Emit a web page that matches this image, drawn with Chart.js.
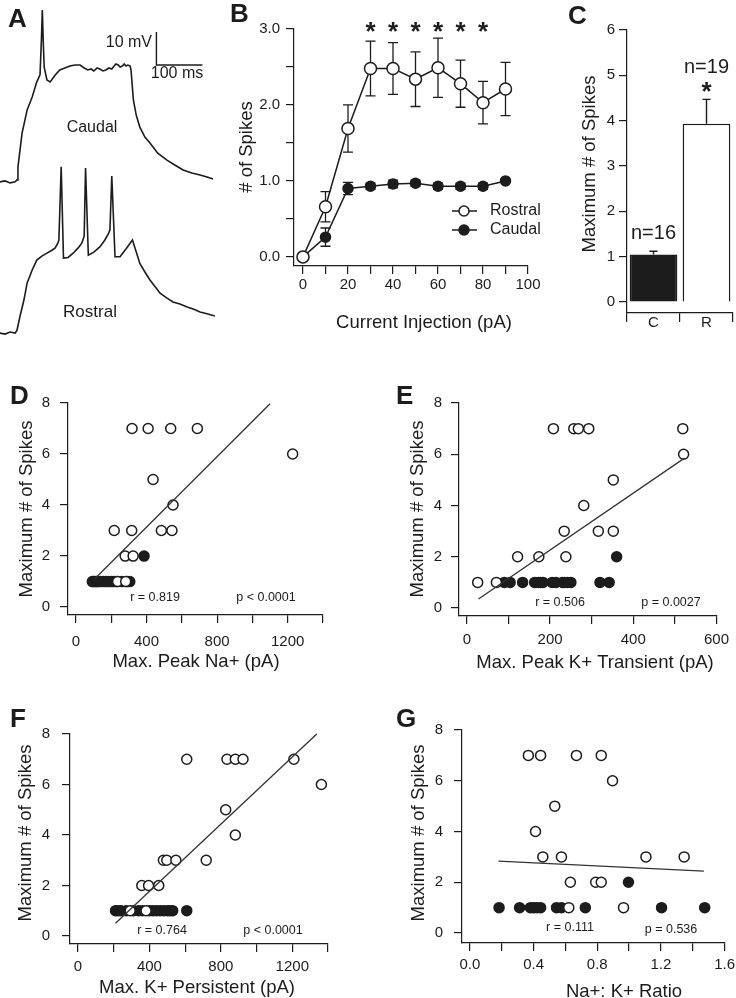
<!DOCTYPE html>
<html>
<head>
<meta charset="utf-8">
<script src="https://cdn.jsdelivr.net/npm/chart.js@4.4.1/dist/chart.umd.min.js"></script>
<style>
  html, body { margin: 0; padding: 0; overflow: hidden; background: #fff; }
  body { width: 736px; height: 998px; position: relative; }
  canvas { position: absolute; }
  .panel { position: absolute; font: bold 26px "Liberation Sans", Arial, sans-serif; line-height: 26px; color: #1c1c1c; }
</style>
</head>
<body>
<canvas id="cA"></canvas>
<canvas id="cB"></canvas>
<canvas id="cC"></canvas>
<canvas id="cD"></canvas>
<canvas id="cE"></canvas>
<canvas id="cF"></canvas>
<canvas id="cG"></canvas>
<div class="panel" style="left:8px;top:5px">A</div>
<div class="panel" style="left:230px;top:0px">B</div>
<div class="panel" style="left:568px;top:2px">C</div>
<div class="panel" style="left:10px;top:382px">D</div>
<div class="panel" style="left:396px;top:382px">E</div>
<div class="panel" style="left:10px;top:705px">F</div>
<div class="panel" style="left:396px;top:705px">G</div>
<script>
// ---- A: voltage traces [ms, mV] (rostral trace drawn offset below caudal) ----
const caudalTrace = [
  [0,-55.1],[11,-54.8],[22,-55.4],[33,-55.1],[37,-54.5],[39,-50.6],[48,-40.3],[59,-33.3],[70,-29.4],
  [80,-24.8],[87,-22.7],[90,-12.1],[92,-3.0],[94,-12.5],[96,-20.3],[102,-24.2],[109,-24.8],[120,-22.7],
  [130,-21.2],[141,-20.6],[152,-20.0],[163,-19.7],[174,-19.7],[183,-20.6],[191,-21.2],[198,-20.9],
  [204,-21.5],[211,-20.6],[217,-20.9],[224,-21.5],[230,-21.2],[237,-20.6],[243,-20.9],[248,-20.0],
  [252,-19.4],[257,-19.7],[261,-20.3],[266,-20.0],[270,-19.4],[274,-20.0],[278,-19.7],[283,-20.0],
  [285,-21.5],[290,-30.3],[296,-34.8],[304,-38.5],[315,-41.5],[326,-43.3],[343,-46.4],[363,-48.5],
  [380,-50.0],[398,-51.5],[417,-52.4],[435,-53.0],[450,-53.6],[463,-54.2]
];
const rostralTrace = [
  [0,-100.9],[11,-101.2],[22,-100.6],[33,-100.9],[37,-100.0],[43,-96.1],[52,-90.9],[59,-85.7],
  [70,-81.8],[80,-78.8],[91,-77.6],[102,-76.7],[113,-75.8],[120,-75.1],[126,-73.6],[128,-72.7],
  [133,-50.5],[138,-78.2],[148,-78.0],[159,-76.7],[170,-75.1],[178,-73.6],[183,-71.5],[186,-50.9],
  [192,-77.3],[204,-76.4],[217,-74.8],[228,-72.7],[236,-70.7],[239,-69.7],[243,-53.3],[250,-77.8],
  [261,-77.8],[275,-75.2],[288,-72.7],[304,-79.8],[315,-82.4],[326,-84.8],[348,-88.8],[363,-90.3],
  [376,-91.5],[391,-92.1],[407,-93.0],[420,-93.6],[435,-94.5],[452,-95.1],[467,-95.7]
];
const scaleBar = [[340,-9.7],[340,-19.7],[440,-19.7]];

// ---- B: spikes vs current injection ----
const currentSteps = [0, 10, 20, 30, 40, 50, 60, 70, 80, 90];
const rostralMean = [0, 0.66, 1.69, 2.48, 2.48, 2.34, 2.49, 2.28, 2.03, 2.21];
const rostralSem  = [0, 0.20, 0.31, 0.36, 0.34, 0.36, 0.39, 0.31, 0.28, 0.35];
const caudalMean  = [0, 0.26, 0.90, 0.93, 0.96, 0.97, 0.93, 0.93, 0.93, 1.00];
const caudalSem   = [0, 0.12, 0.08, 0.04, 0.05, 0.04, 0.04, 0.04, 0.04, 0.00];
const starSteps = [30, 40, 50, 60, 70, 80];
const currentTicks = [0, 10, 20, 30, 40, 50, 60, 70, 80, 90, 100];
const currentTickLabels = ['0', '', '20', '', '40', '', '60', '', '80', '', '100'];
const spikeTicksB = [0, 0.5, 1, 1.5, 2, 2.5, 3];
const spikeTickLabelsB = ['0.0', '', '1.0', '', '2.0', '', '3.0'];

// ---- C: maximum spikes by group ----
const groups = ['C', 'R'];
const groupMean = [1.05, 3.93];
const groupSem = [0.07, 0.54];
const groupN = ['n=16', 'n=19'];
const groupTicks = [0, 1, 2, 3, 4, 5, 6];

// ---- D-G: scatter [x, max spikes] ----
const spikeTicks = [0, 2, 4, 6, 8];
const spikeTickLabels = ['0', '2', '4', '6', '8'];

const naRostral = [[318,7],[409,7],[537,7],[688,7],[1228,6],[437,5],[550,4],[217,3],[316,3],[484,3],
  [544,3],[279,2],[324,2],[236,1],[282,1]];
const naCaudal = [[93,1],[100,1],[110,1],[118,1],[125,1],[140,1],[155,1],[170,1],[185,1],[200,1],
  [215,1],[230,1],[260,1],[290,1],[305,1],[386,2]];
const naFit = [[107,1.11],[1100,7.97]];
const naTicks = [0, 200, 400, 600, 800, 1000, 1200, 1400];
const naTickLabels = ['0', '', '400', '', '800', '', '1200', ''];

const ktRostral = [[208,7],[257,7],[268,7],[293,7],[519,7],[521,6],[352,5],[281,4],[234,3],[316,3],
  [352,3],[122,2],[173,2],[238,2],[26,1],[71,1]];
const ktCaudal = [[90,1],[104,1],[134,1],[163,1],[172,1],[177,1],[183,1],[205,1],[214,1],[230,1],
  [235,1],[242,1],[250,1],[320,1],[342,1],[360,2]];
const ktFit = [[28,0.35],[523,5.85]];
const ktTicks = [0, 100, 200, 300, 400, 500, 600];
const ktTickLabels = ['0', '', '200', '', '400', '', '600'];

const kpRostral = [[609,7],[834,7],[881,7],[924,7],[1209,7],[1363,6],[827,5],[881,4],[478,3],[497,3],
  [548,3],[718,3],[357,2],[395,2],[452,2],[292,1],[381,1]];
const kpCaudal = [[210,1],[225,1],[240,1],[270,1],[310,1],[340,1],[360,1],[400,1],[420,1],[440,1],
  [460,1],[480,1],[500,1],[515,1],[530,1],[609,1]];
const kpFit = [[210,0.5],[1337,8.0]];
const kpTicks = [0, 200, 400, 600, 800, 1000, 1200, 1400];
const kpTickLabels = ['0', '', '400', '', '800', '', '1200', ''];

const ratioRostral = [[0.367,7],[0.444,7],[0.669,7],[0.825,7],[0.896,6],[0.533,5],[0.412,4],[0.458,3],
  [0.575,3],[1.106,3],[1.346,3],[0.631,2],[0.79,2],[0.825,2],[0.621,1],[0.965,1]];
const ratioCaudal = [[0.183,1],[0.312,1],[0.38,1],[0.40,1],[0.42,1],[0.444,1],[0.544,1],[0.575,1],
  [0.725,1],[1.204,1],[1.475,1],[0.996,2]];
const ratioFit = [[0.179,2.83],[1.47,2.44]];
const ratioTicks = [0, 0.2, 0.4, 0.6, 0.8, 1.0, 1.2, 1.4, 1.6];
const ratioTickLabels = ['0.0', '', '0.4', '', '0.8', '', '1.2', '', '1.6'];

// ---- shared helpers ----
const INK = '#1c1c1c';
const FONT = '"Liberation Sans", Arial, Helvetica, sans-serif';
const YTITLE = 'Maximum # of Spikes';
Chart.defaults.font.family = FONT;

function pts(pairs) { return pairs.map(p => ({ x: p[0], y: p[1] })); }

function place(id, box) {
  const c = document.getElementById(id);
  c.width = box[2]; c.height = box[3];
  c.style.left = box[0] + 'px'; c.style.top = box[1] + 'px';
  return c;
}

// layout padding so that the plot area lands on [left, top, right, bottom] (page px)
function framePadding(box, area, xh) {
  return { left: 0, top: area[1] - box[1], right: box[0] + box[2] - area[2], bottom: box[1] + box[3] - area[3] - xh };
}

function axis(o) {
  const cfg = {
    type: o.type || 'linear', position: o.horizontal ? 'bottom' : 'left', min: o.min, max: o.max,
    afterFit: s => { if (o.horizontal) s.height = o.size; else s.width = o.size; },
    offset: !!o.offset,
    ticks: {
      autoSkip: false, maxRotation: 0, padding: o.pad, color: INK,
      font: { family: FONT, size: 15 }
    },
    grid: { offset: !!o.offset, drawOnChartArea: false, drawTicks: true, tickLength: o.len, color: INK, lineWidth: 1.2 },
    border: { display: true, color: INK, width: 1.2 }
  };
  if (o.ticks) cfg.afterBuildTicks = s => { s.ticks = o.ticks.map(v => ({ value: v })); };
  if (o.labels) cfg.ticks.callback = (v, i) => o.labels[i];
  return cfg;
}

function drawText(ctx, box, t) {
  ctx.save();
  ctx.fillStyle = INK;
  ctx.font = (t.bold ? 'bold ' : '') + t.size + 'px ' + FONT;
  ctx.textAlign = t.align || 'center';
  ctx.textBaseline = 'middle';
  ctx.translate(t.x - box[0], t.y - box[1]);
  if (t.rot) ctx.rotate(t.rot);
  ctx.fillText(t.text, 0, 0);
  ctx.restore();
}

function textPlugin(box, items) {
  return { id: 'texts', afterDraw(chart) { items.forEach(t => drawText(chart.ctx, box, t)); } };
}

function baseOptions(pad) {
  return {
    responsive: false, animation: false, devicePixelRatio: 1,
    layout: { padding: pad },
    plugins: { legend: { display: false }, tooltip: { enabled: false } }
  };
}

// ---- A ----
(function () {
  const box = [0, 0, 230, 340];
  const trace = d => ({ data: pts(d), showLine: true, borderColor: INK, borderWidth: 1.6, pointRadius: 0, tension: 0 });
  const opts = baseOptions(0);
  opts.scales = {
    x: { type: 'linear', display: false, min: 0, max: 500 },
    y: { type: 'linear', display: false, min: -103, max: 0 }
  };
  new Chart(place('cA', box), {
    type: 'scatter',
    data: { datasets: [trace(caudalTrace), trace(rostralTrace), Object.assign(trace(scaleBar), { borderWidth: 1.4 })] },
    options: opts,
    plugins: [textPlugin(box, [
      { text: '10 mV', x: 152, y: 43, size: 16, align: 'right' },
      { text: '100 ms', x: 177, y: 74, size: 16 },
      { text: 'Caudal', x: 92, y: 128, size: 16 },
      { text: 'Rostral', x: 90, y: 312, size: 17 }
    ])]
  });
})();

// ---- B ----
(function () {
  const box = [230, 0, 330, 340];
  const area = [294, 29, 528, 266];
  const opts = baseOptions(framePadding(box, area, 40));
  opts.scales = {
    x: axis({ horizontal: true, min: -4, max: 100, ticks: currentTicks, labels: currentTickLabels, len: 8, pad: 2, size: 40 }),
    y: axis({ min: -0.12, max: 3, ticks: spikeTicksB, labels: spikeTickLabelsB, len: 8, pad: 6, size: area[0] - box[0] })
  };
  const series = (label, mean, fill, r) => ({
    label, data: currentSteps.map((x, i) => ({ x, y: mean[i] })), showLine: true,
    borderColor: INK, borderWidth: 1.5, pointRadius: r, pointBackgroundColor: fill,
    pointBorderColor: INK, pointBorderWidth: 1.5, clip: false
  });
  const errorBars = {
    id: 'errB',
    beforeDatasetsDraw(chart) {
      const { ctx, scales: { x, y } } = chart;
      ctx.save(); ctx.strokeStyle = INK; ctx.lineWidth = 1.3;
      [[rostralMean, rostralSem], [caudalMean, caudalSem]].forEach(([m, e]) => {
        currentSteps.forEach((s, i) => {
          if (!e[i]) return;
          const px = x.getPixelForValue(s), top = y.getPixelForValue(m[i] + e[i]), bot = y.getPixelForValue(m[i] - e[i]);
          ctx.beginPath();
          ctx.moveTo(px, top); ctx.lineTo(px, bot);
          ctx.moveTo(px - 5, top); ctx.lineTo(px + 5, top);
          ctx.moveTo(px - 5, bot); ctx.lineTo(px + 5, bot);
          ctx.stroke();
        });
      });
      ctx.restore();
    },
    afterDraw(chart) {
      const { ctx, scales: { x, y } } = chart;
      ctx.save(); ctx.fillStyle = INK; ctx.font = 'bold 26px ' + FONT;
      ctx.textAlign = 'center'; ctx.textBaseline = 'alphabetic';
      starSteps.forEach(s => ctx.fillText('*', x.getPixelForValue(s), y.getPixelForValue(3.05) + 15));
      // legend
      chart.data.datasets.forEach((ds, i) => {
        const ly = 211 + i * 19 - box[1], lx = 452 - box[0];
        ctx.strokeStyle = INK; ctx.lineWidth = 1.5;
        ctx.beginPath(); ctx.moveTo(lx, ly); ctx.lineTo(lx + 25, ly); ctx.stroke();
        ctx.beginPath(); ctx.arc(lx + 12, ly, 5, 0, Math.PI * 2);
        ctx.fillStyle = ds.pointBackgroundColor; ctx.fill(); ctx.stroke();
        ctx.fillStyle = INK; ctx.font = '16px ' + FONT; ctx.textAlign = 'left'; ctx.textBaseline = 'middle';
        ctx.fillText(ds.label, 490 - box[0], ly);
      });
      ctx.restore();
    }
  };
  new Chart(place('cB', box), {
    type: 'scatter',
    data: { datasets: [series('Rostral', rostralMean, '#fff', 6), series('Caudal', caudalMean, INK, 5)] },
    options: opts,
    plugins: [errorBars, textPlugin(box, [
      { text: '# of Spikes', x: 247, y: 147, size: 18.5, rot: -Math.PI / 2 },
      { text: 'Current Injection (pA)', x: 424, y: 323, size: 18.5 }
    ])]
  });
})();

// ---- C ----
(function () {
  const box = [560, 0, 176, 340];
  const area = [627, 30, 733, 313];
  const opts = baseOptions(framePadding(box, area, 24));
  opts.scales = {
    x: axis({ type: 'category', horizontal: true, offset: true, labels: groups, len: 9, pad: -8, size: 24 }),
    y: axis({ min: -0.243, max: 6, ticks: groupTicks, labels: groupTicks.map(String), len: 8, pad: 4, size: area[0] - box[0] })
  };
  const marks = {
    id: 'errC',
    afterDatasetsDraw(chart) {
      const { ctx, scales: { y } } = chart;
      const meta = chart.getDatasetMeta(0);
      ctx.save(); ctx.strokeStyle = INK; ctx.fillStyle = INK; ctx.lineWidth = 1.4;
      meta.data.forEach((bar, i) => {
        const top = y.getPixelForValue(groupMean[i] + groupSem[i]);
        ctx.beginPath();
        ctx.moveTo(bar.x, y.getPixelForValue(groupMean[i])); ctx.lineTo(bar.x, top);
        ctx.moveTo(bar.x - 4, top); ctx.lineTo(bar.x + 4, top);
        ctx.stroke();
        ctx.textAlign = 'center';
        if (i === 1) {
          ctx.font = 'bold 26px ' + FONT; ctx.textBaseline = 'alphabetic';
          ctx.fillText('*', bar.x, top - 14 + 15);
          ctx.font = '20px ' + FONT; ctx.textBaseline = 'middle';
          ctx.fillText(groupN[i], bar.x, top - 32);
        } else {
          ctx.font = '20px ' + FONT; ctx.textBaseline = 'middle';
          ctx.fillText(groupN[i], bar.x, top - 18);
        }
      });
      ctx.restore();
    }
  };
  new Chart(place('cC', box), {
    type: 'bar',
    data: {
      labels: groups,
      datasets: [{ data: groupMean, backgroundColor: [INK, '#fff'], borderColor: INK, borderWidth: 1.5,
        barPercentage: 0.9, categoryPercentage: 1 }]
    },
    options: opts,
    plugins: [marks, textPlugin(box, [{ text: YTITLE, x: 590, y: 164, size: 18.5, rot: -Math.PI / 2 }])]
  });
})();

// ---- D-G scatter panels ----
function scatterPanel(id, box, area, c) {
  const opts = baseOptions(framePadding(box, area, 44));
  opts.scales = {
    x: axis({ horizontal: true, min: c.xMin, max: c.xMax, ticks: c.xTicks, labels: c.xLabels, len: 8, pad: c.xPad, size: 44 }),
    y: axis({ min: c.yMin, max: 8, ticks: spikeTicks, labels: spikeTickLabels, len: 8, pad: c.yPad, size: area[0] - box[0] })
  };
  new Chart(place(id, box), {
    type: 'scatter',
    data: {
      datasets: [
        { data: pts(c.fit), showLine: true, borderColor: '#333', borderWidth: 1.3, pointRadius: 0, clip: false },
        { data: pts(c.open), pointRadius: 5, pointBackgroundColor: '#fff', pointBorderColor: INK, pointBorderWidth: 1.5, clip: false },
        { data: pts(c.filled), pointRadius: 5, pointBackgroundColor: INK, pointBorderColor: INK, pointBorderWidth: 1.5, clip: false }
      ]
    },
    options: opts,
    plugins: [textPlugin(box, [
      { text: YTITLE, x: c.yTitle[0], y: c.yTitle[1], size: 18.5, rot: -Math.PI / 2 },
      { text: c.xTitle, x: c.xTitlePos[0], y: c.xTitlePos[1], size: 18.5 },
      { text: c.r, x: c.rPos[0], y: c.rPos[1], size: 12.5 },
      { text: c.p, x: c.pPos[0], y: c.pPos[1], size: 12.5 }
    ])]
  });
}

scatterPanel('cD', [0, 345, 368, 335], [68, 403, 323, 615], {
  xMin: -45, xMax: 1400, xTicks: naTicks, xLabels: naTickLabels, xPad: 10, yMin: -0.31, yPad: 10,
  open: naRostral, filled: naCaudal, fit: naFit,
  yTitle: [27, 509], xTitle: 'Max. Peak Na+ (pA)', xTitlePos: [196, 662],
  r: 'r = 0.819', rPos: [155, 598], p: 'p < 0.0001', pPos: [266, 598]
});
scatterPanel('cE', [368, 345, 368, 335], [459, 403, 721, 616], {
  xMin: -18.9, xMax: 600, xTicks: ktTicks, xLabels: ktTickLabels, xPad: 7, yMin: -0.312, yPad: 9,
  open: ktRostral, filled: ktCaudal, fit: ktFit,
  yTitle: [418, 509], xTitle: 'Max. Peak K+ Transient (pA)', xTitlePos: [595, 663],
  r: 'r = 0.506', rPos: [560, 603], p: 'p = 0.0027', pPos: [671, 603]
});
scatterPanel('cF', [0, 670, 368, 328], [70, 734, 328, 944], {
  xMin: -45, xMax: 1400, xTicks: kpTicks, xLabels: kpTickLabels, xPad: 6, yMin: -0.32, yPad: 12,
  open: kpRostral, filled: kpCaudal, fit: kpFit,
  yTitle: [26, 833], xTitle: 'Max. K+ Persistent (pA)', xTitlePos: [197, 988],
  r: 'r = 0.764', rPos: [162, 931], p: 'p < 0.0001', pPos: [273, 931]
});
scatterPanel('cG', [368, 670, 372, 328], [462, 730, 726, 943], {
  xMin: -0.05, xMax: 1.6, xTicks: ratioTicks, xLabels: ratioTickLabels, xPad: 5, yMin: -0.394, yPad: 11,
  open: ratioRostral, filled: ratioCaudal, fit: ratioFit,
  yTitle: [419, 833], xTitle: 'Na+: K+ Ratio', xTitlePos: [624, 992],
  r: 'r = 0.111', rPos: [570, 928], p: 'p = 0.536', pPos: [671, 930]
});
</script>
</body>
</html>
